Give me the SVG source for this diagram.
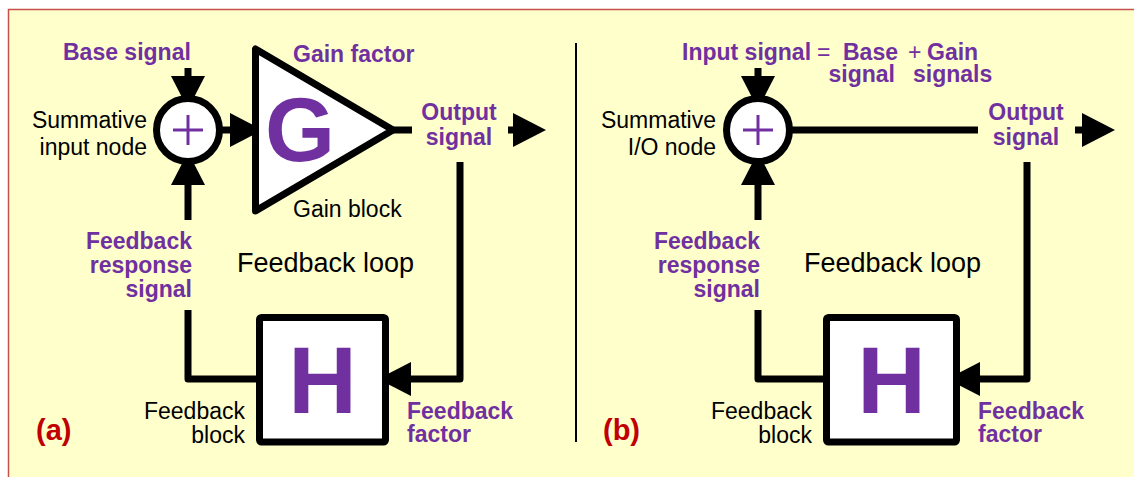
<svg xmlns="http://www.w3.org/2000/svg" width="1134" height="477" viewBox="0 0 1134 477">
  <style>
    .wire { fill: none; stroke: #000; stroke-width: 7; stroke-linejoin: round; }
    .block { fill: #fff; stroke: #000; stroke-width: 7; stroke-linejoin: round; }
    .plus { stroke: #7030A0; stroke-width: 3; }
    .lbl { font-family: "Liberation Sans", Arial, sans-serif; font-size: 23px; fill: #000; }
    .sig { font-family: "Liberation Sans", Arial, sans-serif; font-size: 23px; font-weight: bold; fill: #7030A0; }
    .op { font-weight: normal; }
    .big { font-family: "Liberation Sans", Arial, sans-serif; font-weight: bold; fill: #7030A0; text-anchor: middle; }
    .loop { font-family: "Liberation Sans", Arial, sans-serif; font-size: 27px; fill: #000; }
    .tag { font-family: "Liberation Sans", Arial, sans-serif; font-size: 29px; font-weight: bold; fill: #C00000; }
    .end { text-anchor: end; }
    .mid { text-anchor: middle; }
  </style>
  <defs>
    <marker id="head" viewBox="0 0 33 34" refX="0" refY="17" markerWidth="33" markerHeight="34" markerUnits="userSpaceOnUse" orient="auto">
      <path d="M0,0 L33,17 L0,34 Z" fill="#000"/>
    </marker>
  </defs>

  <!-- page -->
  <rect x="0" y="0" width="1134" height="477" fill="#fff"/>
  <rect x="8.5" y="9.5" width="1135" height="475" fill="#FFFFCC" stroke="#C8504A" stroke-width="1.5"/>
  <line x1="576" y1="43" x2="576" y2="442" stroke="#000" stroke-width="2"/>

  <!-- ===== (a) ===== -->
  <g id="connectors-a">
    <line class="wire" x1="188" y1="68" x2="188" y2="76" marker-end="url(#head)"/>
    <line class="wire" x1="188" y1="220" x2="188" y2="185" marker-end="url(#head)"/>
    <line class="wire" x1="222" y1="130" x2="230" y2="130" marker-end="url(#head)"/>
    <line class="wire" x1="393" y1="130" x2="412" y2="130"/>
    <line class="wire" x1="508" y1="130" x2="513" y2="130" marker-end="url(#head)"/>
    <polyline class="wire" points="460,162 460,379 411,379" marker-end="url(#head)"/>
    <polyline class="wire" points="188,310 188,379 259,379"/>
  </g>

  <g id="sum-a">
    <circle class="block" cx="188" cy="130" r="31.5"/>
    <line class="plus" x1="173" y1="130" x2="203" y2="130"/>
    <line class="plus" x1="188" y1="115" x2="188" y2="145"/>
    <text class="lbl end" x="147" y="128">Summative</text>
    <text class="lbl end" x="147" y="155">input node</text>
  </g>

  <g id="gain-a">
    <polygon class="block" points="255.5,49 255.5,211 393,130"/>
    <text class="big" x="300" y="161" font-size="90">G</text>
    <text class="sig" x="293" y="62">Gain factor</text>
    <text class="lbl" x="293" y="217">Gain block</text>
  </g>

  <g id="feedback-a">
    <rect class="block" x="259.5" y="317.5" width="126" height="124.5" rx="2"/>
    <text class="big" x="322.5" y="413" font-size="95">H</text>
    <text class="lbl end" x="245" y="419">Feedback</text>
    <text class="lbl end" x="245" y="443">block</text>
    <text class="sig" x="407" y="419">Feedback</text>
    <text class="sig" x="407" y="442">factor</text>
  </g>

  <g id="labels-a">
    <text class="sig" x="63" y="60">Base signal</text>
    <text class="sig mid" x="459" y="120">Output</text>
    <text class="sig mid" x="459" y="145">signal</text>
    <text class="sig end" x="192" y="249">Feedback</text>
    <text class="sig end" x="192" y="273">response</text>
    <text class="sig end" x="192" y="297">signal</text>
    <text class="loop" x="237" y="272">Feedback loop</text>
    <text class="tag" x="36" y="440">(a)</text>
  </g>

  <!-- ===== (b) ===== -->
  <g id="connectors-b">
    <line class="wire" x1="758" y1="68" x2="758" y2="76" marker-end="url(#head)"/>
    <line class="wire" x1="758" y1="220" x2="758" y2="185" marker-end="url(#head)"/>
    <line class="wire" x1="792" y1="130" x2="978" y2="130"/>
    <line class="wire" x1="1075" y1="130" x2="1082" y2="130" marker-end="url(#head)"/>
    <polyline class="wire" points="1027,162 1027,379 980,379" marker-end="url(#head)"/>
    <polyline class="wire" points="758,310 758,379 826,379"/>
  </g>

  <g id="sum-b">
    <circle class="block" cx="758" cy="130" r="31.5"/>
    <line class="plus" x1="743" y1="130" x2="773" y2="130"/>
    <line class="plus" x1="758" y1="115" x2="758" y2="145"/>
    <text class="lbl end" x="716" y="128">Summative</text>
    <text class="lbl end" x="716" y="155">I/O node</text>
  </g>

  <g id="feedback-b">
    <rect class="block" x="826.5" y="317.5" width="130" height="124.5" rx="2"/>
    <text class="big" x="891.5" y="413" font-size="95">H</text>
    <text class="lbl end" x="812" y="419">Feedback</text>
    <text class="lbl end" x="812" y="443">block</text>
    <text class="sig" x="978" y="419">Feedback</text>
    <text class="sig" x="978" y="442">factor</text>
  </g>

  <g id="labels-b">
    <text class="sig" y="60"><tspan x="682">Input signal</tspan><tspan class="op" x="817">=</tspan><tspan x="843">Base</tspan><tspan class="op" x="908">+</tspan><tspan x="927">Gain</tspan></text>
    <text class="sig end" x="895" y="82">signal</text>
    <text class="sig" x="913" y="82">signals</text>
    <text class="sig mid" x="1026" y="120">Output</text>
    <text class="sig mid" x="1026" y="145">signal</text>
    <text class="sig end" x="760" y="249">Feedback</text>
    <text class="sig end" x="760" y="273">response</text>
    <text class="sig end" x="760" y="297">signal</text>
    <text class="loop" x="804" y="272">Feedback loop</text>
    <text class="tag" x="603" y="440">(b)</text>
  </g>
</svg>
